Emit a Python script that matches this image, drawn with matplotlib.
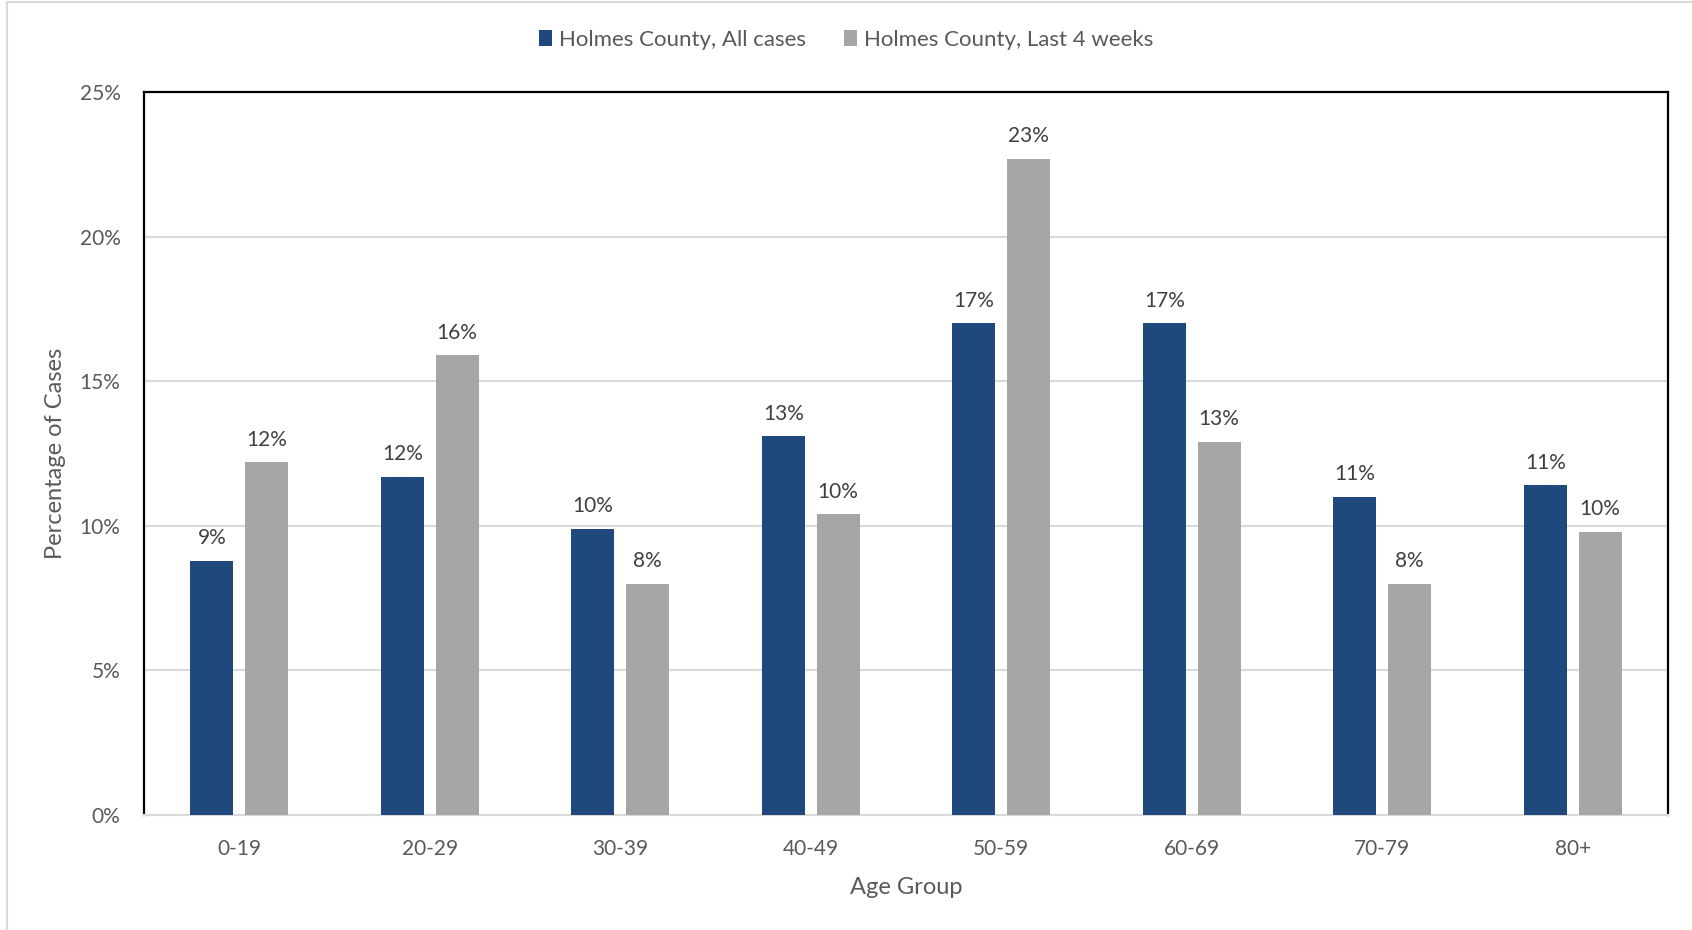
import numpy as np
import matplotlib
matplotlib.use("Agg")
import matplotlib.pyplot as plt
from matplotlib.lines import Line2D

# Data
age_groups = ["0-19", "20-29", "30-39", "40-49", "50-59", "60-69", "70-79", "80+"]
all_cases = [8.8, 11.7, 9.9, 13.1, 17.0, 17.0, 11.0, 11.4]
last_4_weeks = [12.2, 15.9, 8.0, 10.4, 22.7, 12.9, 8.0, 9.8]
series_names = ["Holmes County, All cases", "Holmes County, Last 4 weeks"]
y_ticks = [0, 5, 10, 15, 20, 25]

BLUE = "#1f497d"
GRAY = "#a6a6a6"
TEXT = "#595959"

plt.rcParams["font.family"] = ["Lato", "DejaVu Sans"]

fig = plt.figure(figsize=(16.92, 9.3), dpi=100)
ax = fig.add_axes([144 / 1692, 1 - 815 / 930, (1668 - 144) / 1692, (815 - 92) / 930])

x = np.arange(len(age_groups))
width = 0.226
offset = 0.144
b1 = ax.bar(x - offset, all_cases, width, color=BLUE, label=series_names[0], zorder=3)
b2 = ax.bar(x + offset, last_4_weeks, width, color=GRAY, label=series_names[1], zorder=3)

# data labels above bars
for bars, vals in [(b1, all_cases), (b2, last_4_weeks)]:
    for rect, v in zip(bars, vals):
        ax.annotate(f"{v:.0f}%", (rect.get_x() + rect.get_width() / 2, v),
                    xytext=(0, 9), textcoords="offset points",
                    ha="center", va="bottom", fontsize=15, color="#404040")

ax.set_xlim(-0.5, len(age_groups) - 0.5)
ax.set_ylim(0, 25)
ax.set_yticks(y_ticks)
ax.set_yticklabels([f"{t}%" for t in y_ticks])
ax.set_xticks(x)
ax.set_xticklabels(age_groups)
ax.tick_params(axis="both", length=0, labelsize=15, labelcolor=TEXT)
ax.tick_params(axis="y", pad=17)
ax.tick_params(axis="x", pad=17)

ax.grid(axis="y", color="#d9d9d9", linewidth=1.5, zorder=0)
ax.set_axisbelow(True)
for side in ["top", "right", "left"]:
    ax.spines[side].set_color("black")
    ax.spines[side].set_linewidth(1.6)
ax.spines["bottom"].set_color("#d9d9d9")
ax.spines["bottom"].set_linewidth(1.6)

ax.set_xlabel("Age Group", fontsize=17, color=TEXT, labelpad=13)
ax.set_ylabel("Percentage of Cases", fontsize=17, color=TEXT, labelpad=10)

fig.legend(handles=[b1, b2], labels=series_names, loc="center",
           bbox_to_anchor=(0.5, 1 - 40 / 930), ncol=2, frameon=False,
           fontsize=16, labelcolor=TEXT, handlelength=0.6, handleheight=0.7,
           handletextpad=0.3, columnspacing=1.7)

# light outer chart border (left and top)
fig.add_artist(Line2D([7 / 1692, 7 / 1692], [0, 1 - 2 / 930], color="#d9d9d9", lw=1.5))
fig.add_artist(Line2D([7 / 1692, 1], [1 - 2 / 930, 1 - 2 / 930], color="#d9d9d9", lw=1.5))

fig.savefig("out.png", dpi=100, facecolor="white")
